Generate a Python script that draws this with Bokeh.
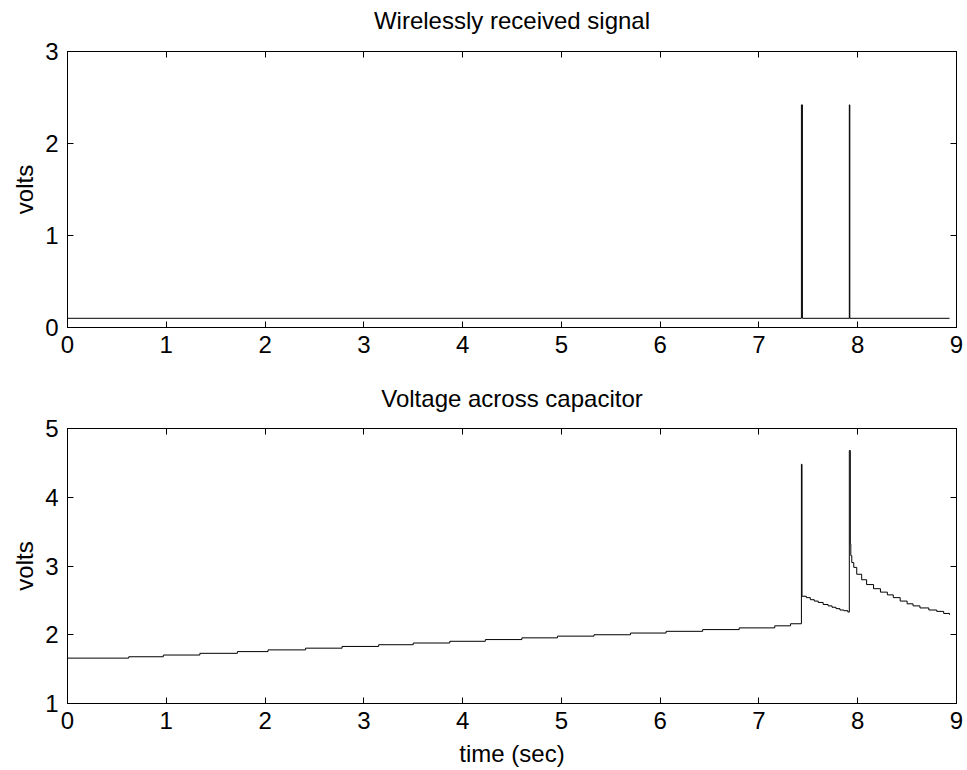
from bokeh.plotting import figure
from bokeh.layouts import column
from bokeh.models import Range1d, FixedTicker, LinearAxis, CustomJSTickFormatter
from bokeh.embed import file_html
from bokeh.resources import INLINE

# ---- data ----
x_ticks = [0, 1, 2, 3, 4, 5, 6, 7, 8, 9]
top_y_ticks = [0, 1, 2, 3]
bot_y_ticks = [1, 2, 3, 4, 5]
titles = ["Wirelessly received signal", "Voltage across capacitor"]

sig_t = [0.0, 7.43, 7.43, 7.44, 7.44, 7.915, 7.915, 7.92, 7.92, 8.93]
sig_v = [0.1, 0.1, 2.42, 2.42, 0.1, 0.1, 2.42, 2.42, 0.1, 0.1]

cap_t = [0.0, 0.62, 0.97, 1.34, 1.72, 2.03, 2.41, 2.78, 3.15, 3.50, 3.87, 4.23,
         4.60, 4.96, 5.33, 5.70, 6.06, 6.43, 6.80, 7.16, 7.32,
         7.43, 7.436, 7.48, 7.52, 7.56, 7.60, 7.65, 7.70, 7.74, 7.78, 7.82, 7.86, 7.90,
         7.915, 7.925, 7.93, 7.94, 7.96, 7.99, 8.04, 8.09, 8.16, 8.23, 8.30, 8.36,
         8.43, 8.50, 8.56, 8.63, 8.72, 8.80, 8.87, 8.93]
cap_v = [1.66, 1.68, 1.705, 1.73, 1.755, 1.78, 1.805, 1.83, 1.855, 1.88, 1.905, 1.93,
         1.955, 1.98, 2.00, 2.025, 2.05, 2.075, 2.10, 2.13, 2.16,
         4.48, 2.56, 2.54, 2.51, 2.49, 2.47, 2.44, 2.42, 2.40, 2.38, 2.36, 2.35, 2.33,
         4.68, 3.32, 3.15, 3.05, 2.98, 2.88, 2.80, 2.73, 2.67, 2.62, 2.58, 2.54,
         2.49, 2.45, 2.42, 2.39, 2.36, 2.34, 2.31, 2.29]

FONT = "Liberation Sans"
FS = "24px"


def style(p, yticks, title, title_gap):
    p.xgrid.visible = False
    p.ygrid.visible = False
    p.outline_line_color = "black"
    p.outline_line_width = 1
    for ax in p.xaxis + p.yaxis:
        ax.major_label_text_font = FONT
        ax.major_label_text_font_size = FS
        ax.major_label_text_color = "black"
        ax.axis_label_text_font = FONT
        ax.axis_label_text_font_size = FS
        ax.axis_label_text_font_style = "normal"
        ax.axis_label_text_color = "black"
        ax.axis_label_standoff = 4
        ax.major_tick_in = 6
        ax.major_tick_out = 0
        ax.minor_tick_in = 0
        ax.minor_tick_out = 0
        ax.axis_line_color = "black"
        ax.major_tick_line_color = "black"
    p.xaxis.ticker = FixedTicker(ticks=x_ticks)
    p.yaxis.ticker = FixedTicker(ticks=yticks)
    p.xaxis.major_label_standoff = 8
    p.xaxis.axis_label_standoff = 8
    p.yaxis.major_label_standoff = 9
    blank = CustomJSTickFormatter(code="return ''")
    r = LinearAxis(ticker=FixedTicker(ticks=yticks), formatter=blank,
                   major_tick_in=6, major_tick_out=0, minor_tick_in=0, minor_tick_out=0,
                   major_label_text_font_size="0px", major_label_standoff=0,
                   axis_line_color="black", major_tick_line_color="black")
    t = LinearAxis(ticker=FixedTicker(ticks=x_ticks), formatter=blank,
                   major_tick_in=6, major_tick_out=0, minor_tick_in=0, minor_tick_out=0,
                   major_label_text_font_size="0px", major_label_standoff=0,
                   axis_line_color="black", major_tick_line_color="black",
                   axis_label=title, axis_label_text_font=FONT,
                   axis_label_text_font_size=FS, axis_label_text_font_style="normal",
                   axis_label_text_color="black", axis_label_standoff=title_gap)
    p.add_layout(r, "right")
    p.add_layout(t, "above")


p1 = figure(width=967, height=380, x_range=Range1d(0, 9), y_range=Range1d(0, 3),
            output_backend="svg",
            toolbar_location=None, min_border_left=67, min_border_right=11,
            min_border_top=51, min_border_bottom=53)
p1.line(sig_t, sig_v, line_color="black", line_width=1)
p1.yaxis.axis_label = "volts"
style(p1, top_y_ticks, titles[0], 18)

p2 = figure(width=967, height=390, x_range=Range1d(0, 9), y_range=Range1d(1, 5),
            output_backend="svg",
            toolbar_location=None, min_border_left=67, min_border_right=11,
            min_border_top=48, min_border_bottom=67)
p2.step(cap_t, cap_v, mode="after", line_color="black", line_width=1)
p2.yaxis.axis_label = "volts"
p2.xaxis.axis_label = "time (sec)"
style(p2, bot_y_ticks, titles[1], 17)

layout = column(p1, p2, spacing=0)
open("out.html", "w").write(file_html(layout, INLINE))
